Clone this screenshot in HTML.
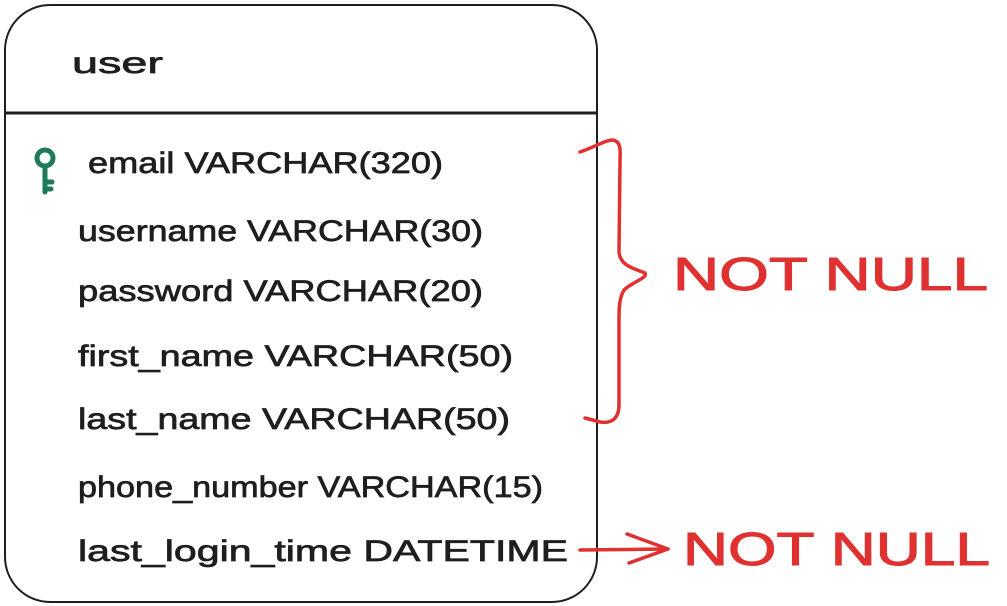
<!DOCTYPE html>
<html><head><meta charset="utf-8"><style>html,body{margin:0;padding:0;background:#fff;width:1007px;height:606px;overflow:hidden}</style></head>
<body>
<svg width="1007" height="606" viewBox="0 0 1007 606" xmlns="http://www.w3.org/2000/svg">
<rect x="5" y="5" width="592" height="597" rx="45" ry="45" fill="#fff" stroke="#1e1e1e" stroke-width="2"/>
<line x1="6" y1="113" x2="597" y2="113" stroke="#1e1e1e" stroke-width="3"/>
<g font-family="Liberation Sans, sans-serif" fill="#1e1e1e" stroke="#1e1e1e" stroke-width="0.7" font-size="30">
<text x="72" y="73" textLength="91" lengthAdjust="spacingAndGlyphs">user</text>
<text x="88" y="173" textLength="355" lengthAdjust="spacingAndGlyphs">email VARCHAR(320)</text>
<text x="78" y="241" textLength="405" lengthAdjust="spacingAndGlyphs">username VARCHAR(30)</text>
<text x="78" y="301" textLength="405" lengthAdjust="spacingAndGlyphs">password VARCHAR(20)</text>
<text x="78" y="366" textLength="435" lengthAdjust="spacingAndGlyphs">first_name VARCHAR(50)</text>
<text x="78" y="429" textLength="432" lengthAdjust="spacingAndGlyphs">last_name VARCHAR(50)</text>
<text x="78" y="497" textLength="465" lengthAdjust="spacingAndGlyphs">phone_number VARCHAR(15)</text>
<text x="78" y="561" textLength="490" lengthAdjust="spacingAndGlyphs">last_login_time DATETIME</text>
</g>
<g fill="none" stroke="#1e7a5a" stroke-width="5" stroke-linecap="round">
<circle cx="45" cy="158" r="8"/>
<line x1="45" y1="166" x2="45" y2="192"/>
<line x1="45" y1="182" x2="52" y2="182"/>
<line x1="45" y1="189" x2="51" y2="189"/>
</g>
<g fill="none" stroke="#e03131" stroke-width="3.5" stroke-linecap="round" stroke-linejoin="round">
<path d="M580 152 C595 147 605 140 613 140 C622 142 620 152 620 162 L619 252 C620 265 632 268 645 273 C648 278 632 282 624 290 C619 298 619 310 619 320 L619 405 C619 418 612 424 600 422 L585 418"/>
<path d="M580 550 L668 549"/>
<path d="M627 534 L668 549 L629 563"/>
</g>
<g font-family="Liberation Sans, sans-serif" fill="#e03131" stroke="#e03131" stroke-width="1" font-size="46">
<text x="673" y="290" textLength="315" lengthAdjust="spacingAndGlyphs">NOT NULL</text>
<text x="683" y="565" textLength="307" lengthAdjust="spacingAndGlyphs">NOT NULL</text>
</g>
</svg>
</body></html>
